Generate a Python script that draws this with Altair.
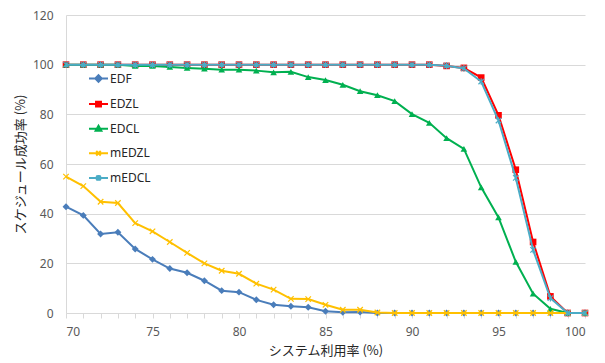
import altair as alt
import pandas as pd

# System utilization (%) on the x axis
utilization = list(range(70, 101))

# Schedulability success ratio (%) for each algorithm
edf = [42.8, 39.3, 31.8, 32.5, 25.8, 21.6, 17.9, 16.2, 13.0, 9.0, 8.4, 5.3, 3.3, 2.7, 2.3, 0.7, 0.3, 0.4,
       0, 0, 0, 0, 0, 0, 0, 0, 0, 0, 0, 0, 0]
edzl = [100] * 22 + [99.5, 98.7, 94.8, 79.6, 57.7, 28.6, 6.7, 0, 0]
edcl = [100, 100, 100, 100, 99.5, 99.5, 99.1, 98.7, 98.4, 98.0, 98.0, 97.6, 96.9, 97.1, 95.0, 93.8,
        91.9, 89.3, 87.7, 85.3, 80.1, 76.6, 70.4, 66.1, 50.6, 38.5, 20.6, 7.8, 1.7, 0, 0]
medzl = [54.9, 51.1, 44.8, 44.3, 36.2, 32.9, 28.6, 24.2, 20.0, 17.0, 15.8, 11.8, 9.4, 5.7, 5.6, 3.3,
         1.3, 1.3, 0.2, 0, 0, 0, 0, 0, 0, 0, 0, 0, 0, 0, 0]
medcl = [100] * 22 + [99.6, 98.5, 93.2, 77.5, 54.4, 25.4, 6.0, 0, 0]

series_names = ["EDF", "EDZL", "EDCL", "mEDZL", "mEDCL"]
series_values = [edf, edzl, edcl, medzl, medcl]
series_colors = ["#4A7DBA", "#FF0000", "#00B050", "#FFC000", "#4BACC6"]

# Marker drawn on each data point
marker_shape = {
    "EDF": "diamond",
    "EDZL": "square",
    "EDCL": "triangle-up",
    "mEDZL": "M-1,-1L1,1M-1,1L1,-1",
    "mEDCL": "M-1,-1L1,1M-1,1L1,-1M0,-1.2V1.2",
}
marker_filled = {"EDF": True, "EDZL": True, "EDCL": True, "mEDZL": False, "mEDCL": False}
marker_size = {"EDF": 48, "EDZL": 44, "EDCL": 44, "mEDZL": 30, "mEDCL": 30}

# Legend symbols: a short line segment with the marker in its middle
legend_shapes = [
    "M-1,0H1M0,-0.34L0.34,0L0,0.34L-0.34,0Z",
    "M-1,0H1M-0.26,-0.26H0.26V0.26H-0.26Z",
    "M-1,0H1M0,-0.3L0.3,0.22H-0.3Z",
    "M-1,0H1M-0.24,-0.24L0.24,0.24M-0.24,0.24L0.24,-0.24",
    "M-1,0H1M-0.24,-0.24L0.24,0.24M-0.24,0.24L0.24,-0.24M0,-0.3V0.3",
]

rows = []
for name, vals in zip(series_names, series_values):
    for u, v in zip(utilization, vals):
        rows.append({"series": name, "util": u, "rate": v})
df = pd.DataFrame(rows)

x_enc = alt.X(
    "util:Q",
    scale=alt.Scale(domain=[70, 100], nice=False, zero=False),
    axis=alt.Axis(
        title="システム利用率 (%)",
        values=utilization,
        labelExpr="datum.value % 5 === 0 ? datum.label : ''",
        labelOverlap=False,
        grid=False,
        ticks=True,
        tickSize=5,
        tickColor="#D9D9D9",
        domainColor="#D9D9D9",
        labelFont="Noto Sans",
        labelFontSize=12,
        labelColor="#595959",
        labelPadding=8,
        titleFont="Noto Sans CJK JP",
        titleFontSize=13,
        titleFontWeight="normal",
        titleColor="#262626",
        titlePadding=7,
    ),
)
y_enc = alt.Y(
    "rate:Q",
    scale=alt.Scale(domain=[0, 120], nice=False),
    axis=alt.Axis(
        title="スケジュール成功率 (%)",
        values=[0, 20, 40, 60, 80, 100, 120],
        grid=True,
        gridColor="#D9D9D9",
        ticks=False,
        domainColor="#D9D9D9",
        labelFont="Noto Sans",
        labelFontSize=12,
        labelColor="#595959",
        labelPadding=13,
        titleFont="Noto Sans CJK JP",
        titleFontSize=13,
        titleFontWeight="normal",
        titleColor="#262626",
        titlePadding=5,
    ),
)

# One line layer and one marker layer per series, in drawing order
layers = []
for name, color in zip(series_names, series_colors):
    base = alt.Chart(df).transform_filter(alt.datum.series == name)
    line = base.mark_line(strokeWidth=2, color=color).encode(x=x_enc, y=y_enc)
    pts = base.mark_point(
        shape=marker_shape[name],
        filled=marker_filled[name],
        color=color,
        size=marker_size[name],
        strokeWidth=1.2,
        opacity=1,
    ).encode(x=x_enc, y=y_enc)
    layers += [line, pts]

# Legend layer: draws no marks, only supplies the line+marker legend
legend = alt.Legend(
    title=None,
    orient="none",
    legendX=22,
    legendY=53,
    direction="vertical",
    padding=0,
    symbolSize=361,
    symbolStrokeWidth=2,
    symbolOpacity=1,
    labelFont="Noto Sans",
    labelFontSize=12,
    labelColor="#262626",
    labelOffset=1,
    rowPadding=7.6,
)
key_layer = (
    alt.Chart(df)
    .transform_filter("false")
    .mark_point(filled=True, opacity=1)
    .encode(
        x=x_enc,
        y=y_enc,
        fill=alt.Fill("series:N", scale=alt.Scale(domain=series_names, range=series_colors), legend=legend),
        stroke=alt.Stroke("series:N", scale=alt.Scale(domain=series_names, range=series_colors), legend=legend),
        shape=alt.Shape("series:N", scale=alt.Scale(domain=series_names, range=legend_shapes), legend=legend),
    )
)
layers.append(key_layer)

chart = (
    alt.layer(*layers)
    .properties(
        width=519,
        height=298,
        autosize="none",
        padding={"left": 66, "top": 15, "right": 20, "bottom": 50},
        background="white",
    )
    .configure_view(stroke=None)
)

chart.save("out.html", embed_options={"renderer": "svg", "actions": False})
